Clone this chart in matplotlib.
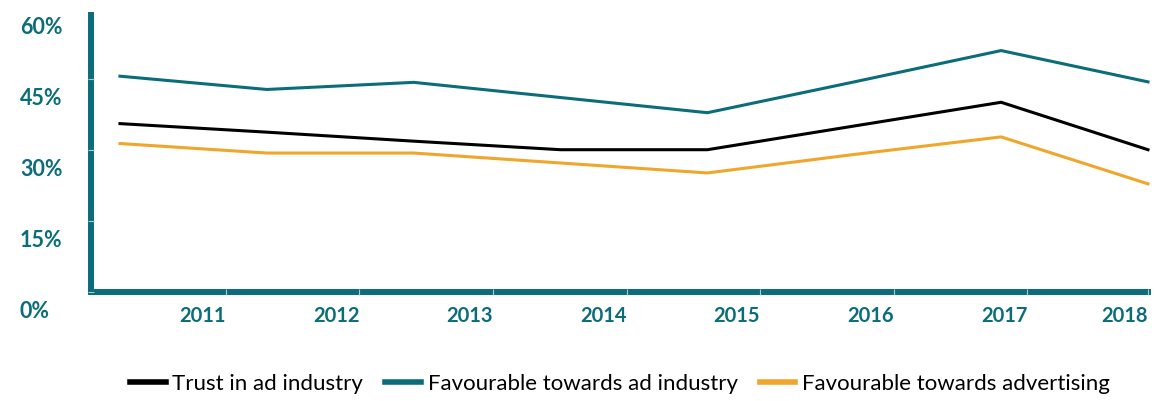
import numpy as np
import matplotlib
matplotlib.use("Agg")
import matplotlib.pyplot as plt
from matplotlib.transforms import blended_transform_factory, ScaledTranslation

years = [2011, 2012, 2013, 2014, 2015, 2016, 2017, 2018]
trust_ad_industry = [35.5, 33.7, 31.8, 30.0, 30.0, 35.0, 40.0, 30.0]
fav_ad_industry = [45.5, 42.7, 44.2, 41.0, 37.8, 44.3, 50.9, 44.3]
fav_advertising = [31.3, 29.3, 29.3, 27.2, 25.1, 29.0, 32.7, 22.8]
y_ticks = [0, 15, 30, 45, 60]
y_labels = ["0%", "15%", "30%", "45%", "60%"]
series_names = ["Trust in ad industry", "Favourable towards ad industry",
                "Favourable towards advertising"]

TEAL = "#0a6d79"
ORANGE = "#f0a52b"
LIGHT = "#a9cbd0"
DPI = 100

fig = plt.figure(figsize=(11.55, 4.01), dpi=DPI)
ax = fig.add_axes([91.3 / 1155, 1 - 292 / 401, (1148 - 91.3) / 1155, (292 - 15) / 401])

ax.plot(years, fav_ad_industry, color=TEAL, lw=2.2, label=series_names[1], clip_on=False)
ax.plot(years, trust_ad_industry, color="black", lw=2.2, label=series_names[0], clip_on=False)
ax.plot(years, fav_advertising, color=ORANGE, lw=2.2, label=series_names[2], clip_on=False)

x0 = years[0] - (120 - 91.3) / 147.0
ax.set_xlim(x0, years[-1])
ax.set_ylim(0, 58.4)

for s in ["top", "right"]:
    ax.spines[s].set_visible(False)
for s in ["left", "bottom"]:
    ax.spines[s].set_color(TEAL)
    ax.spines[s].set_linewidth(4.3)

# year labels sit right-aligned on their own (evenly spread) ticks
step = 133.7 / 147.0
label_ticks = np.minimum(years[0] + (226 - 120) / 147.0 + step * np.arange(len(years)), years[-1])
ax.set_xticks(label_ticks)
ax.set_xticklabels([str(y) for y in years], fontfamily="Lato", fontweight="bold",
                   fontsize=14.5, color=TEAL, ha="right")
ax.tick_params(axis="x", direction="inout", length=4, width=0.8, color=LIGHT, pad=8)

ax.set_yticks(y_ticks[:-1])
ax.set_yticklabels([])
ax.tick_params(axis="y", direction="inout", length=4, width=0.8, color=LIGHT)
ax.xaxis.set_zorder(3)
ax.yaxis.set_zorder(3)

trans = blended_transform_factory(fig.transFigure, ax.transData) + \
    ScaledTranslation(0, -20 / DPI, fig.dpi_scale_trans)
for v, lab in zip(y_ticks, y_labels):
    ax.text(20 / 1155, v, lab, transform=trans, ha="left", va="center",
            fontfamily="Lato", fontweight="bold", fontsize=15.5, color=TEAL, clip_on=False)

handles, labels = ax.get_legend_handles_labels()
order = [1, 0, 2]
leg = fig.legend([handles[i] for i in order], [labels[i] for i in order],
                 loc="center", bbox_to_anchor=(620 / 1155, 1 - 384 / 401), ncol=3,
                 frameon=False, prop={"family": "Lato", "size": 16},
                 handlelength=1.6, handletextpad=0.3, columnspacing=1.0)
for h in leg.legend_handles:
    h.set_linewidth(4)

fig.savefig("out.png", dpi=DPI)
